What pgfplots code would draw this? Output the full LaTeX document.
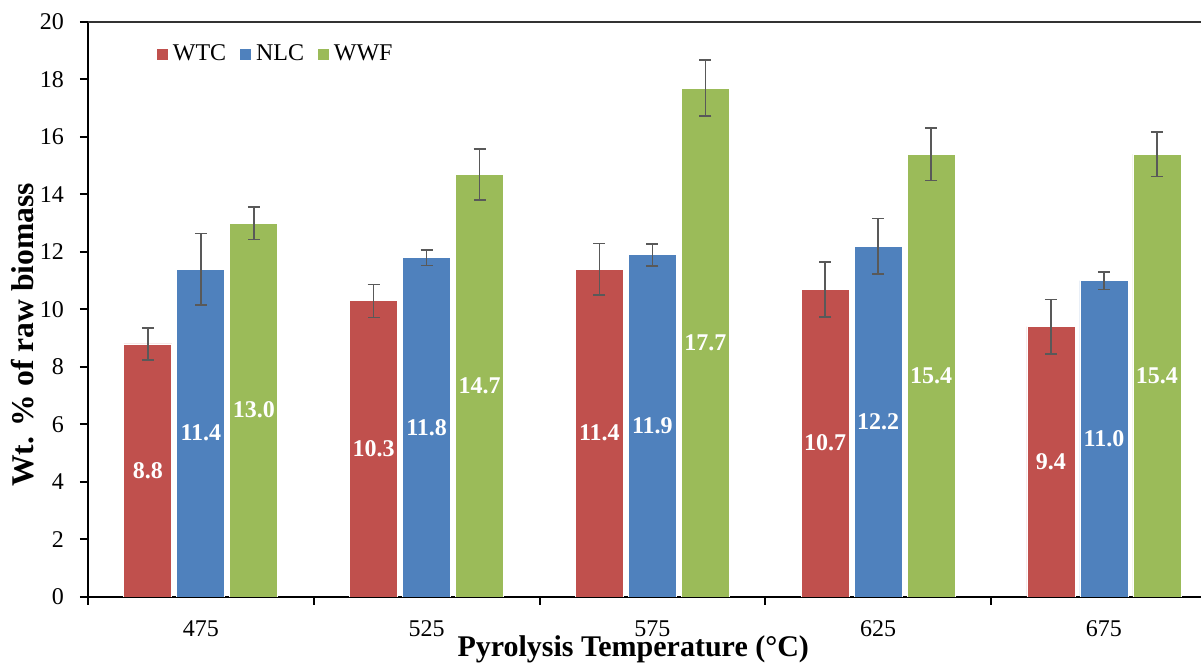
\documentclass[border=0pt]{standalone}
\usepackage{fontspec}
\setmainfont{Liberation Serif}
\usepackage{pgfplots}
\usepackage{pgfplotstable}
\pgfplotsset{compat=1.18}

\definecolor{wtc}{HTML}{C0504D}
\definecolor{nlc}{HTML}{4F81BD}
\definecolor{wwf}{HTML}{9BBB59}
\definecolor{errgray}{HTML}{595959}

% x: 0..4 = 475, 525, 575, 625, 675 degC
\pgfplotstableread{
x  y     err
0  8.8   0.56
1  10.3  0.57
2  11.4  0.89
3  10.7  0.96
4  9.4   0.94
}\wtc
\pgfplotstableread{
x  y     err
0  11.4  1.25
1  11.8  0.27
2  11.9  0.38
3  12.2  0.97
4  11.0  0.31
}\nlc
\pgfplotstableread{
x  y     err
0  13.0  0.57
1  14.7  0.89
2  17.7  0.97
3  15.4  0.92
4  15.4  0.77
}\wwf

\begin{document}
\begin{tikzpicture}
\begin{axis}[
    scale only axis,
    width=564.4pt, height=287.5pt,
    ybar=2.5pt, bar width=24pt,
    xmin=-0.5, xmax=4.5,
    ymin=0, ymax=20,
    ytick={0,2,...,20},
    xtick={0,...,4},
    xticklabels={475,525,575,625,675},
    minor xtick={-0.5,0.5,...,3.5},
    axis y line*=left, axis x line*=bottom,
    axis line style={line width=1pt, -},
    tick align=outside,
    major tick length=4pt, minor tick length=4pt,
    tick style={line width=1pt, black},
    major x tick style={draw=none},
    minor x tick style={line width=1pt, black},
    /pgf/number format/assume math mode=true,
    tick label style={font=\fontsize{12}{14}\selectfont},
    yticklabel style={xshift=-4.5pt},
    xticklabel style={inner sep=1pt, yshift=-6.5pt},
    xlabel={Pyrolysis Temperature (°C)},
    ylabel={Wt. \% of raw biomass},
    x label style={font=\fontsize{15}{18}\selectfont\bfseries, inner sep=0.5pt,
        at={(axis description cs:0.483,0)}, anchor=base, yshift=-30pt},
    y label style={font=\fontsize{15.8}{18}\selectfont\bfseries,
        at={(axis description cs:-0.0487,0.456)}, anchor=base},
    legend columns=3,
    legend style={at={(axis description cs:0.06,0.944)}, anchor=west,
        draw=none, fill=none, inner sep=0pt,
        font=\fontsize{12}{14}\selectfont,
        /tikz/every even column/.append style={column sep=4.5pt}},
    legend image code/.code={\fill[#1] (0pt,-3pt) rectangle (6pt,3pt);},
    visualization depends on=rawy\as\rawy,
    nodes near coords,
    nodes near coords style={/pgf/number format/fixed,
        /pgf/number format/fixed zerofill,
        /pgf/number format/precision=1},
    every node near coord/.append style={anchor=center, text=white,
        font=\fontsize{12}{14}\selectfont\bfseries,
        shift={(axis direction cs:0,-\rawy/2)}},
    error bars/y dir=both, error bars/y explicit,
    error bars/error bar style={line width=0.75pt, errgray},
    error bars/error mark options={rotate=90, mark size=3pt, line width=0.75pt, errgray},
]
\addplot[fill=wtc, draw=white, line width=0.4pt] table[x=x, y=y, y error=err] {\wtc};
\addlegendentry{WTC}
\addplot[fill=nlc, draw=white, line width=0.4pt] table[x=x, y=y, y error=err] {\nlc};
\addlegendentry{NLC}
\addplot[fill=wwf, draw=white, line width=0.4pt] table[x=x, y=y, y error=err] {\wwf};
\addlegendentry{WWF}
\draw[line width=0.8pt, black!80] (rel axis cs:0,1) -- (rel axis cs:1,1);
\coordinate (bl) at (rel axis cs:0,0);
\coordinate (tl) at (rel axis cs:0,1);
\end{axis}
\pgfresetboundingbox
\path ([xshift=-44pt, yshift=-33pt]bl) rectangle ([xshift=556.5pt, yshift=11pt]tl);
\end{tikzpicture}
\end{document}
